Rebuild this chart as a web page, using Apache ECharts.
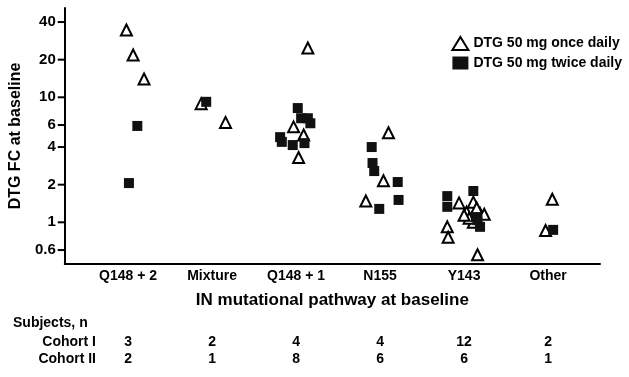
<!DOCTYPE html>
<html>
<head>
<meta charset="utf-8">
<script src="https://cdn.jsdelivr.net/npm/echarts@6/dist/echarts.min.js"></script>
<style>
html, body { margin: 0; padding: 0; background: #fff; }
#main { width: 629px; height: 377px; }
</style>
</head>
<body>
<div id="main"></div>
<script>
var categories = ['Q148 + 2', 'Mixture', 'Q148 + 1', 'N155', 'Y143', 'Other'];
var yTicks = [0.6, 1, 2, 4, 6, 10, 20, 40];
// [pathway position (1..6 plus jitter), DTG fold change]
var onceDaily = [
	[0.98, 34.5], [1.06, 21.8], [1.19, 14.0],
	[1.87, 8.9], [2.16, 6.3],
	[3.14, 24.8], [2.97, 5.8], [3.09, 5.0], [3.03, 3.3],
	[4.10, 5.2], [4.04, 2.15], [3.83, 1.48],
	[4.80, 0.92], [4.81, 0.76], [5.16, 0.55], [4.94, 1.43], [5.11, 1.45], [5.03, 1.21],
	[5.19, 1.18], [5.11, 1.0], [5.15, 1.3], [5.06, 1.08], [5.24, 1.16], [5.00, 1.14],
	[6.05, 1.53], [5.97, 0.86]
];
var twiceDaily = [
	[1.11, 5.9], [1.01, 2.06],
	[1.93, 9.2],
	[3.02, 8.2], [3.06, 6.8], [3.14, 6.8], [3.17, 6.2], [2.81, 4.8], [2.83, 4.4], [2.96, 4.15], [3.10, 4.3],
	[3.90, 4.0], [3.91, 2.98], [3.93, 2.57], [4.21, 2.10], [4.22, 1.51], [3.99, 1.28],
	[4.80, 1.62], [4.80, 1.33], [5.11, 1.78], [5.14, 1.10], [5.19, 0.92], [5.16, 1.04],
	[6.06, 0.87]
];
var cohortI = [3, 2, 4, 4, 12, 2];
var cohortII = [2, 1, 8, 6, 6, 1];
var catPos = [1, 2, 3, 4, 5, 6];

var font = 'Liberation Sans, Arial, sans-serif';
var xMin = 0.246, xMax = 6.618;
var yMin = 0.464, yMax = 51.8;

function rowAxis(values, offset) {
	return {
		type: 'value', min: xMin, max: xMax, position: 'bottom', offset: offset,
		axisLine: { show: false, onZero: false }, axisTick: { show: false }, splitLine: { show: false },
		axisLabel: {
			customValues: catPos, margin: 0, color: '#000', fontFamily: font,
			fontWeight: 'bold', fontSize: 14,
			formatter: function (v) { return values[Math.round(v) - 1]; }
		}
	};
}

var chart = echarts.init(document.getElementById('main'));
chart.setOption({
	animation: false,
	grid: { left: 64, right: 29, top: 8, bottom: 113 },
	legend: {
		orient: 'vertical', right: 2, top: 31, itemGap: 5,
		itemWidth: 16, itemHeight: 13,
		textStyle: { fontFamily: font, fontWeight: 'bold', fontSize: 14, color: '#000' },
		data: ['DTG 50 mg once daily', 'DTG 50 mg twice daily']
	},
	xAxis: [{
		type: 'value', min: xMin, max: xMax,
		name: 'IN mutational pathway at baseline', nameLocation: 'middle', nameGap: 28,
		nameTextStyle: { fontFamily: font, fontWeight: 'bold', fontSize: 17, color: '#000' },
		axisLine: { onZero: false, lineStyle: { color: '#000', width: 2 } },
		axisTick: { show: false }, splitLine: { show: false },
		axisLabel: {
			customValues: catPos, margin: 5, color: '#000', fontFamily: font,
			fontWeight: 'bold', fontSize: 14,
			formatter: function (v) { return categories[Math.round(v) - 1]; }
		}
	}, rowAxis(cohortI, 71), rowAxis(cohortII, 88)],
	yAxis: {
		type: 'log', logBase: 10, min: yMin, max: yMax,
		name: 'DTG FC at baseline', nameLocation: 'middle', nameGap: 38,
		nameTextStyle: { fontFamily: font, fontWeight: 'bold', fontSize: 16, color: '#000' },
		axisLine: { show: true, onZero: false, lineStyle: { color: '#000', width: 2 } },
		axisTick: { show: false },
		splitLine: { show: false },
		axisLabel: { customValues: yTicks, margin: 9, color: '#000', fontFamily: font, fontWeight: 'bold', fontSize: 15 }
	},
	graphic: [
		{ type: 'text', left: 13, top: 316, style: { text: 'Subjects, n', fontFamily: font, fontWeight: 'bold', fontSize: 14, fill: '#000' } },
		{ type: 'text', right: 533, top: 335, style: { text: 'Cohort I', fontFamily: font, fontWeight: 'bold', fontSize: 14, fill: '#000' } },
		{ type: 'text', right: 533, top: 352, style: { text: 'Cohort II', fontFamily: font, fontWeight: 'bold', fontSize: 14, fill: '#000' } }
	],
	series: [{
		// y-axis tick marks: short bars sitting just left of the axis line
		name: 'ticks', type: 'scatter', silent: true, clip: false, z: 3,
		symbol: 'rect', symbolSize: [7, 2], symbolOffset: [-3.5, 0],
		itemStyle: { color: '#000', opacity: 1 },
		data: yTicks.map(function (v) { return [xMin, v]; })
	}, {
		name: 'DTG 50 mg once daily', type: 'scatter', symbol: 'triangle', symbolSize: 11,
		itemStyle: { color: '#fff', borderColor: '#000', borderWidth: 2, opacity: 1 },
		data: onceDaily
	}, {
		name: 'DTG 50 mg twice daily', type: 'scatter', symbol: 'rect', symbolSize: 10,
		itemStyle: { color: '#111', opacity: 1 },
		data: twiceDaily
	}]
});
</script>
</body>
</html>
